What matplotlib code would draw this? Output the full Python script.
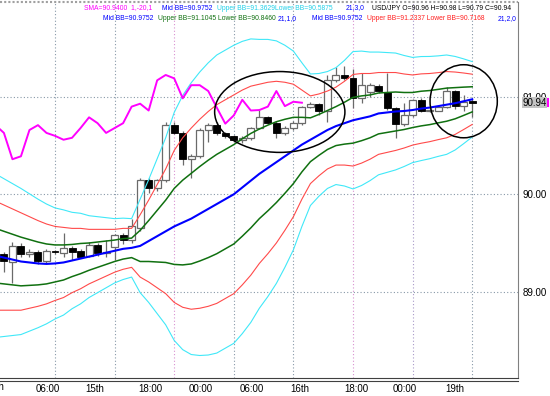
import numpy as np
import matplotlib
matplotlib.use('Agg')
import matplotlib.pyplot as plt
from matplotlib.patches import Ellipse
from matplotlib.lines import Line2D
import matplotlib.transforms as mtransforms

plt.rcParams['font.family'] = ['Liberation Sans', 'DejaVu Sans']

# ---------------- data ----------------
bars = np.arange(1, 57)
opens = [89.39, 89.30, 89.47, 89.39, 89.41, 89.32, 89.42, 89.40, 89.45, 89.42,
         89.37, 89.48, 89.40, 89.46, 89.58, 89.53, 89.65, 90.15, 90.06, 90.15,
         90.71, 90.63, 90.36, 90.39, 90.66, 90.71, 90.63, 90.60, 90.555, 90.58,
         90.68, 90.79, 90.73, 90.63, 90.68, 90.73, 90.90, 90.93, 90.86, 91.17,
         91.225, 91.19, 90.985, 91.05, 91.115, 91.05, 90.89, 90.725, 90.81, 90.97,
         90.86, 90.86, 90.90, 91.06, 90.905, 90.96]
highs = [89.41, 89.51, 89.50, 89.44, 89.43, 89.44, 89.43, 89.60, 89.47, 89.44,
         89.51, 89.50, 89.53, 89.59, 89.60, 89.75, 90.17, 90.17, 90.16, 90.74,
         90.745, 90.65, 90.41, 90.68, 90.73, 90.74, 90.64, 90.61, 90.60, 90.69,
         90.865, 90.80, 90.75, 90.70, 90.75, 90.91, 90.95, 90.94, 91.225, 91.31,
         91.32, 91.29, 91.245, 91.14, 91.13, 91.24, 90.90, 90.94, 90.98, 90.99,
         90.88, 90.91, 91.105, 91.07, 91.02, 90.98]
lows = [89.205, 89.09, 89.36, 89.36, 89.285, 89.29, 89.39, 89.36, 89.33, 89.345,
        89.36, 89.37, 89.36, 89.33, 89.49, 89.50, 89.62, 90.01, 90.03, 90.13,
        90.62, 90.30, 90.165, 90.37, 90.54, 90.61, 90.58, 90.54, 90.53, 90.56,
        90.67, 90.72, 90.58, 90.61, 90.66, 90.71, 90.89, 90.81, 90.74, 91.15,
        91.17, 90.885, 90.94, 91.00, 91.04, 90.87, 90.575, 90.70, 90.79, 90.84,
        90.84, 90.85, 90.89, 90.88, 90.85, 90.79]
closes = [89.32, 89.47, 89.39, 89.41, 89.32, 89.42, 89.41, 89.45, 89.41, 89.36,
          89.48, 89.40, 89.41, 89.58, 89.53, 89.67, 90.15, 90.06, 90.15, 90.71,
          90.63, 90.36, 90.39, 90.66, 90.71, 90.63, 90.60, 90.56, 90.58, 90.68,
          90.79, 90.73, 90.63, 90.68, 90.73, 90.90, 90.93, 90.86, 91.17, 91.225,
          91.19, 90.985, 91.12, 91.12, 91.06, 90.89, 90.725, 90.81, 90.97, 90.86,
          90.865, 90.90, 91.06, 90.905, 90.95, 90.94]

band_bars = np.arange(0, 57)
bb_mid = [89.37, 89.35, 89.33, 89.31, 89.30, 89.29, 89.285, 89.29, 89.30, 89.32,
          89.34, 89.36, 89.38, 89.40, 89.42, 89.44, 89.45, 89.47, 89.52, 89.57,
          89.62, 89.67, 89.71, 89.75, 89.80, 89.85, 89.90, 89.95, 90.00, 90.07,
          90.14, 90.21, 90.27, 90.33, 90.39, 90.45, 90.51, 90.56, 90.61, 90.66,
          90.70, 90.73, 90.76, 90.78, 90.80, 90.83, 90.84, 90.85, 90.855, 90.865,
          90.88, 90.89, 90.905, 90.92, 90.935, 90.955, 90.975]
bb_sd = [0.28, 0.27, 0.26, 0.25, 0.235, 0.22, 0.205, 0.19, 0.18, 0.165,
         0.155, 0.14, 0.13, 0.12, 0.11, 0.105, 0.10, 0.16, 0.21, 0.265,
         0.32, 0.39, 0.435, 0.465, 0.485, 0.50, 0.51, 0.51, 0.51, 0.50,
         0.485, 0.46, 0.44, 0.415, 0.38, 0.34, 0.28, 0.225, 0.21, 0.20,
         0.20, 0.215, 0.235, 0.23, 0.22, 0.21, 0.205, 0.20, 0.19, 0.18,
         0.178, 0.175, 0.172, 0.17, 0.16, 0.145, 0.129]
sma_shift = 20

grid_bars = [7, 14, 21, 28, 35, 42, 49, 56]
grid_colors = ['#8898a8', '#8898a8', '#d890d0', '#8898a8', '#8898a8', '#d890d0', '#a898c8', '#8898a8']
grid_prices = [89.0, 90.0, 91.0]
time_label_pos = [6.18, 11.7, 18.16, 24.15, 30.1, 35.8, 42.4, 48.1, 53.9]
time_labels = ['06:00', '15th', '18:00', '00:00', '06:00', '16th', '18:00', '00:00', '19th']
price_labels = ['89.00', '90.00', '91.00']
last_price = 90.94

ellipse_centers = [(33.4, 90.845), (55.0, 90.955)]
ellipse_sizes = [(15.3, 0.83), (7.9, 0.75)]

# ---------------- figure ----------------
W, H = 550, 396
fig = plt.figure(figsize=(W / 100, H / 100), dpi=100)
ax = fig.add_axes([0, 1 - 378 / H, 518 / W, 376 / H])
ax.set_xlim(0.54, 61.38)
ax.set_ylim(88.114, 91.974)

# grid
for gb, gc in zip(grid_bars, grid_colors):
    ax.axvline(gb, color=gc, lw=0.8, ls=(0, (1, 2)), zorder=1)
for gp in grid_prices:
    ax.axhline(gp, color='#8898a8', lw=0.8, ls=(0, (1, 2)), zorder=1)

# candles
o = np.array(opens); c = np.array(closes); h = np.array(highs); l = np.array(lows)
ax.vlines(bars, l, h, color='#6a6a6a', lw=0.9, zorder=2)
up = c >= o
bottoms = np.minimum(o, c)
heights = np.maximum(np.abs(c - o), 0.004)
ax.bar(bars[up], heights[up], bottom=bottoms[up], width=0.82,
       color='white', edgecolor='#6a6a6a', lw=0.9, zorder=3)
ax.bar(bars[~up], heights[~up], bottom=bottoms[~up], width=0.82,
       color='black', edgecolor='black', lw=0.6, zorder=3)

# bollinger bands
mid = np.array(bb_mid); sd = np.array(bb_sd)
for k, col, lw in [(3, '#40e8f8', 0.8), (2, '#ff4a4a', 0.8), (1, '#107010', 1.1)]:
    ax.plot(band_bars, mid + k * sd, color=col, lw=lw, zorder=4)
    ax.plot(band_bars, mid - k * sd, color=col, lw=lw, zorder=4)
ax.plot(band_bars, mid, color='#0000ff', lw=1.5, zorder=5)

# shifted close line (SMA 1, shift -20)
ax.plot(bars[sma_shift - 1:] - sma_shift, c[sma_shift - 1:], color='#ff00ff', lw=1.4, zorder=5)

# ellipses
for (cx, cy), (ew, eh) in zip(ellipse_centers, ellipse_sizes):
    ax.add_patch(Ellipse((cx, cy), ew, eh, fill=False, ec='black', lw=1.1, zorder=6))

# axes styling
for s in ['left', 'top']:
    ax.spines[s].set_visible(False)
ax.spines['right'].set_color('#808080')
ax.spines['bottom'].set_color('#404040')
ax.spines['bottom'].set_linewidth(0.8)
ax.plot([0, 1], [-0.009, -0.009], transform=ax.transAxes, clip_on=False, color='#404040', lw=0.8)
ax.plot([0, 1], [1.0, 1.0], transform=ax.transAxes, clip_on=False, color='#a0a0a0', lw=1.5, ls=(0, (1, 1)))

ax.set_xticks(time_label_pos)
ax.set_xticklabels(time_labels, fontsize=7)
ax.tick_params(axis='x', length=0, pad=4)
ax.yaxis.tick_right()
ax.set_yticks(grid_prices)
ax.set_yticklabels(price_labels, fontsize=7)
ax.tick_params(axis='y', length=0, pad=3)
ax.set_facecolor('white')

fig.text(4 / W, 1 - 387 / H, '14th', fontsize=7, ha='right', va='center')

# current price box
ax.annotate(f'{last_price:.2f}', xy=(1.0, last_price), xycoords=('axes fraction', 'data'),
            xytext=(3, 0), textcoords='offset points', fontsize=7, va='center', ha='left',
            bbox=dict(boxstyle='square,pad=0.05', fc='#c4c4c4', ec='none'), annotation_clip=False)
tr = mtransforms.blended_transform_factory(fig.transFigure, ax.transData)
fig.add_artist(Line2D([547.5 / W, 547.5 / W], [last_price - 0.035, last_price + 0.035],
                      transform=tr, color='#ff00ff', lw=1.5))

# indicator legends
def seg(x, y, s, col):
    fig.text(x / W, 1 - y / H, s, fontsize=4.9, color=col, ha='left', va='center')

seg(84, 8, 'SMA=90.9400  1,-20,1', '#ff00ff')
seg(162, 8, 'Mid BB=90.9752', '#0000ff')
seg(217, 8, 'Upper BB=91.3629', '#20d0e8')
seg(275, 8, 'Lower BB=90.5875', '#20d0e8')
seg(346, 8, '21,3,0', '#0000ff')
seg(372, 8, 'USD/JPY O=90.96 H=90.98 L=90.79 C=90.94', 'black')
seg(103, 19, 'Mid BB=90.9752', '#0000ff')
seg(158, 19, 'Upper BB=91.1045 Lower BB=90.8460', '#107010')
seg(278, 19, '21,1,0', '#0000ff')
seg(312, 19, 'Mid BB=90.9752', '#0000ff')
seg(367, 19, 'Upper BB=91.2337 Lower BB=90.7168', '#ff2020')
seg(498, 19, '21,2,0', '#0000ff')

fig.savefig('out.png', dpi=100, facecolor='white')
